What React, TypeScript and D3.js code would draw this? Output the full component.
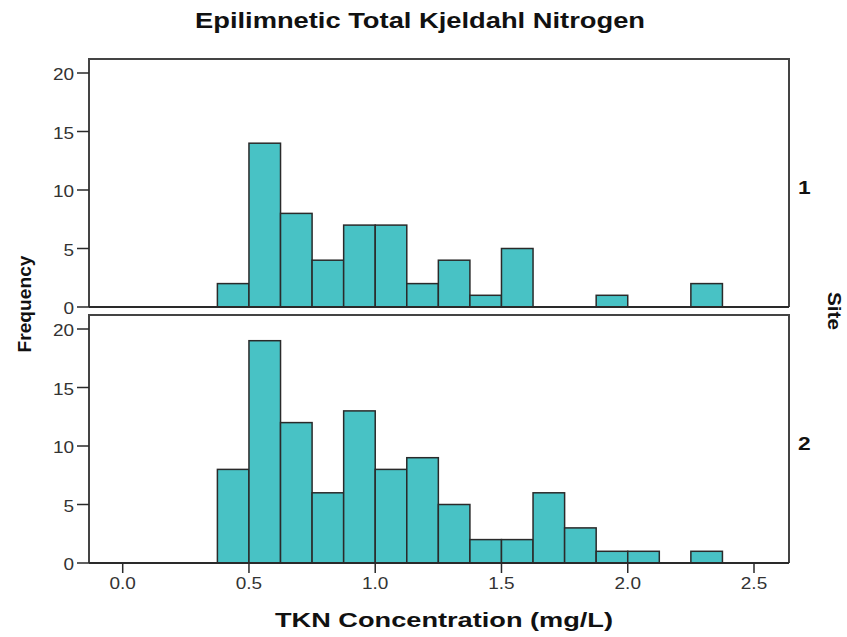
import React from "react";
import * as d3 from "d3";

// Histogram bin lower edges (mg/L), bin width 0.125
const binStarts = [0.375, 0.5, 0.625, 0.75, 0.875, 1.0, 1.125, 1.25, 1.375, 1.5, 1.625, 1.75, 1.875, 2.0, 2.125, 2.25];
const binWidth = 0.125;
const site1Counts = [2, 14, 8, 4, 7, 7, 2, 4, 1, 5, 0, 0, 1, 0, 0, 2];
const site2Counts = [8, 19, 12, 6, 13, 8, 9, 5, 2, 2, 6, 3, 1, 1, 0, 1];
const siteLabels = ["1", "2"];
const xTicks = [0.0, 0.5, 1.0, 1.5, 2.0, 2.5];
const yTicks = [0, 5, 10, 15, 20];

const W = 847;
const H = 637;
const left = 89;
const right = 789;
const panels = [
  { top: 59, y0: 307, y20: 73, counts: site1Counts, label: siteLabels[0] },
  { top: 315, y0: 563, y20: 329, counts: site2Counts, label: siteLabels[1] },
];

const FILL = "#48c2c5";
const LINE = "#2a2a2a";
const FONT = "'Liberation Sans', Arial, sans-serif";
const STRETCH = 1.15; // horizontal widening of tick labels

export default function App() {
  const x = d3.scaleLinear().domain([0, 2.5]).range([122.7, 754]);

  return (
    <svg width={W} height={H} style={{ display: "block", position: "absolute", left: 0, top: 0 }} fontFamily={FONT}>
      <rect x={0} y={0} width={W} height={H} fill="#fff" />
      <text
        x={420}
        y={28}
        textAnchor="middle"
        fontSize={22}
        fontWeight="bold"
        fill="#111"
        textLength={450}
        lengthAdjust="spacingAndGlyphs"
      >
        Epilimnetic Total Kjeldahl Nitrogen
      </text>

      {panels.map((p, pi) => {
        const y = d3.scaleLinear().domain([0, 20]).range([p.y0, p.y20]);
        return (
          <g key={pi}>
            {/* bars */}
            {binStarts.map((b, i) =>
              p.counts[i] > 0 ? (
                <rect
                  key={i}
                  x={x(b)}
                  y={y(p.counts[i])}
                  width={x(b + binWidth) - x(b)}
                  height={y(0) - y(p.counts[i])}
                  fill={FILL}
                  stroke={LINE}
                  strokeWidth={1.5}
                />
              ) : null
            )}
            {/* frame */}
            <path
              d={`M${left},${p.y0}V${p.top}H${right}V${p.y0}`}
              fill="none"
              stroke="#444"
              strokeWidth={2}
            />
            <line x1={left} x2={right} y1={p.y0} y2={p.y0} stroke={LINE} strokeWidth={2} />
            {/* y axis ticks */}
            {yTicks.map((t) => (
              <g key={t}>
                <line x1={77} x2={left} y1={y(t)} y2={y(t)} stroke={LINE} strokeWidth={1.5} />
                <text
                  transform={`translate(74,${y(t) + 7}) scale(${STRETCH},1)`}
                  textAnchor="end"
                  fontSize={16.5}
                  fill="#333"
                >
                  {t}
                </text>
              </g>
            ))}
            <text
              transform={`translate(798,${(p.top + p.y0) / 2 + 11}) scale(1.2,1)`}
              fontSize={19}
              fontWeight="bold"
              fill="#111"
            >
              {p.label}
            </text>
          </g>
        );
      })}

      {/* x axis */}
      {xTicks.map((t) => (
        <g key={t}>
          <line x1={x(t)} x2={x(t)} y1={563} y2={573} stroke={LINE} strokeWidth={1.5} />
          <text
            transform={`translate(${x(t)},589) scale(${STRETCH},1)`}
            textAnchor="middle"
            fontSize={16.5}
            fill="#333"
          >
            {d3.format(".1f")(t)}
          </text>
        </g>
      ))}

      <text
        x={444}
        y={627}
        textAnchor="middle"
        fontSize={20}
        fontWeight="bold"
        fill="#111"
        textLength={338}
        lengthAdjust="spacingAndGlyphs"
      >
        TKN Concentration (mg/L)
      </text>
      <text
        transform="translate(31,304) rotate(-90)"
        textAnchor="middle"
        fontSize={18}
        fontWeight="bold"
        fill="#111"
        textLength={97}
        lengthAdjust="spacingAndGlyphs"
      >
        Frequency
      </text>
      <text
        transform="translate(828,311) rotate(90)"
        textAnchor="middle"
        fontSize={18}
        fontWeight="bold"
        fill="#111"
        textLength={38}
        lengthAdjust="spacingAndGlyphs"
      >
        Site
      </text>
    </svg>
  );
}
